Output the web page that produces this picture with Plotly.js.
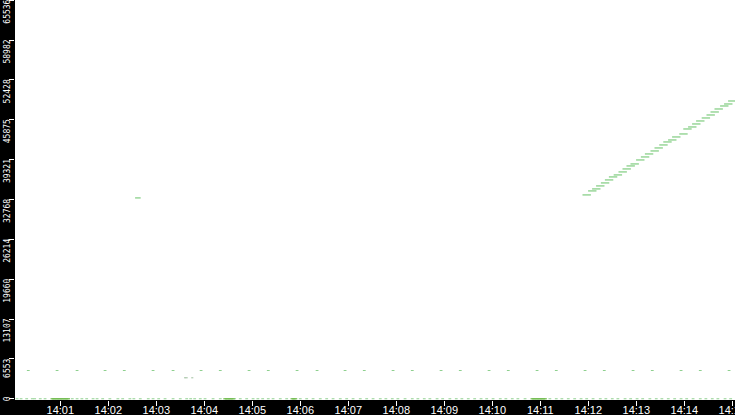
<!DOCTYPE html>
<html>
<head>
<meta charset="utf-8">
<script src="https://cdn.plot.ly/plotly-3.0.1.min.js"></script>
<style>
  html, body { margin: 0; padding: 0; background: #000; }
  #chart { width: 735px; height: 415px; }
</style>
</head>
<body>
<div id="chart"></div>
<script>
// day is arbitrary, only the clock time matters
const day = "2024-01-01 ";

// rising counter, 14:12 -> 14:15
const rampTimes = ["14:11:58", "14:12:05", "14:12:10", "14:12:15", "14:12:21", "14:12:26", "14:12:31",
    "14:12:37", "14:12:43", "14:12:48", "14:12:53", "14:12:58", "14:13:05", "14:13:11", "14:13:16",
    "14:13:23", "14:13:28", "14:13:34", "14:13:39", "14:13:45", "14:13:50", "14:13:59", "14:14:04",
    "14:14:10", "14:14:15", "14:14:20", "14:14:27", "14:14:33", "14:14:38", "14:14:43", "14:14:50",
    "14:14:55", "14:15:00"];
const rampValues = [33515, 34172, 34501, 34994, 35487, 35979, 36472, 36801, 37294, 37787, 38280,
    38608, 39265, 39758, 40251, 40744, 41237, 41730, 42223, 42551, 43044, 43537, 44358, 44687,
    45180, 45673, 46166, 46658, 47151, 47644, 48137, 48466, 48958];

// lone sample
const singleTimes = ["14:02:37"];
const singleValues = [33022];

// twice-a-minute level around 4650
const levelTimes = ["14:00:20", "14:00:56", "14:01:21", "14:01:56", "14:02:20", "14:02:56",
    "14:03:21", "14:03:56", "14:04:20", "14:04:56", "14:05:20", "14:05:56", "14:06:21", "14:06:56",
    "14:07:20", "14:07:56", "14:08:20", "14:08:56", "14:09:20", "14:09:56", "14:10:20", "14:10:56",
    "14:11:20", "14:11:56", "14:12:20", "14:12:56", "14:13:20", "14:13:56", "14:14:20", "14:14:56"];
const levelValues = [4650, 4650, 4650, 4650, 4650, 4650, 4650, 4650, 4650, 4650, 4650, 4650, 4650,
    4650, 4650, 4650, 4650, 4650, 4650, 4650, 4650, 4650, 4650, 4650, 4650, 4650, 4650, 4650,
    4650, 4650];

// three grey samples near 14:03:40
const greyTimes = ["14:03:36", "14:03:38", "14:03:45"];
const greyValues = [3450, 3450, 3450];

// zero readings along the bottom (seconds after 14:00)
const zeroSeconds = [6, 11, 18, 25, 28, 35, 41, 75, 81, 87, 93, 101, 106, 113, 122, 132, 138, 147,
    152, 160, 170, 176, 183, 191, 201, 210, 218, 223, 228, 235, 241, 251, 260, 278, 285, 293, 301,
    307, 313, 320, 326, 335, 343, 360, 368, 376, 385, 393, 401, 410, 418, 426, 435, 443, 451, 460,
    467, 475, 482, 491, 500, 507, 515, 522, 531, 538, 547, 555, 562, 570, 578, 586, 593, 601, 610,
    617, 625, 632, 641, 672, 680, 687, 695, 703, 711, 718, 726, 735, 742, 750, 757, 766, 773, 781,
    788, 797, 805, 812, 820, 828, 836, 843, 851, 860, 867, 875, 882, 891, 898];

// dense bursts of zeros (seconds after 14:00)
const burstSeconds = [50, 52, 54, 56, 58, 60, 62, 64, 66, 68, 70, 266, 268, 270, 272, 274, 276,
    350, 352, 354, 650, 652, 654, 656, 658, 660, 662, 664, 666];

const yTicks = [0, 6553, 13107, 19660, 26214, 32768, 39321, 45875, 52428, 58982, 65536];

function clock(t) {
    return day + t;
}

function fromSeconds(s) {
    let d = new Date(2024, 0, 1, 14, 0, 0);
    d.setSeconds(d.getSeconds() + s);
    let pad = n => String(n).padStart(2, "0");
    return day + pad(d.getHours()) + ":" + pad(d.getMinutes()) + ":" + pad(d.getSeconds());
}

function dashTrace(x, y, color, size, width) {
    return {
        x: x,
        y: y,
        type: "scatter",
        mode: "markers",
        hoverinfo: "x+y",
        cliponaxis: false,
        marker: {
            symbol: "line-ew",
            size: size,
            line: { color: color, width: width }
        }
    };
}

let data = [
    dashTrace(zeroSeconds.map(fromSeconds), zeroSeconds.map(() => 0), "#8fd08f", 2, 1),
    dashTrace(burstSeconds.map(fromSeconds), burstSeconds.map(() => 0), "#74bd52", 2.5, 1.3),
    dashTrace(levelTimes.map(clock), levelValues, "#8fd08f", 2, 1),
    dashTrace(greyTimes.map(clock), greyValues, "#9fbf9f", 1.5, 1),
    dashTrace(singleTimes.map(clock), singleValues, "#7fcc7f", 4, 1.2),
    dashTrace(rampTimes.map(clock), rampValues, "#7fcc7f", 6, 1.2)
];

// y tick labels sit just below their tick, rotated, like the original viewer
let yLabels = yTicks.map(function (v) {
    return {
        xref: "paper",
        yref: "y",
        x: 0,
        y: v,
        text: String(v),
        showarrow: false,
        textangle: -90,
        xanchor: "right",
        yanchor: v === 0 ? "middle" : "top",
        xshift: -3,
        borderpad: 0,
        borderwidth: 0,
        font: { family: "DejaVu Sans Mono", size: 8, color: "#ffffff" }
    };
});

var layout = {
    width: 735,
    height: 415,
    margin: { l: 15, r: 0, t: 0, b: 15, pad: 0 },
    paper_bgcolor: "#000000",
    plot_bgcolor: "#ffffff",
    showlegend: false,
    annotations: yLabels,
    xaxis: {
        type: "date",
        range: [day + "14:00:03.4", day + "14:15:03.4"],
        dtick: 60000,
        tick0: day + "14:00:00",
        tickformat: "%H:%M",
        ticks: "outside",
        ticklen: 5,
        tickwidth: 1,
        tickcolor: "#ffffff",
        ticklabelstandoff: -5,
        ticklabeloverflow: "allow",
        tickfont: { family: "Liberation Sans", size: 11, color: "#ffffff" },
        showgrid: false,
        zeroline: false,
        showline: false
    },
    yaxis: {
        range: [-200, 65560],
        tickvals: yTicks,
        showticklabels: false,
        ticks: "outside",
        ticklen: 5,
        tickwidth: 1,
        tickcolor: "#ffffff",
        showgrid: false,
        zeroline: false,
        showline: false
    }
};

var config = { staticPlot: true };
Plotly.newPlot("chart", data, layout, config);
</script>
</body>
</html>
